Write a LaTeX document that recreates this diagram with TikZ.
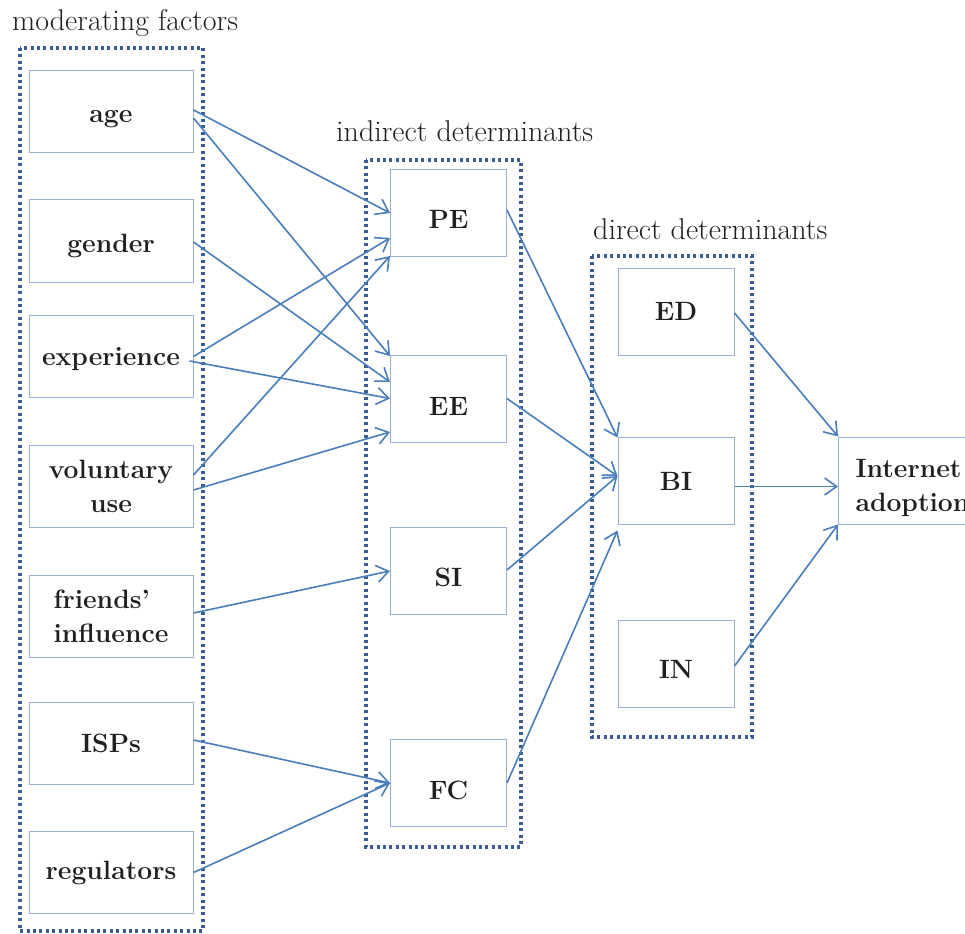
\documentclass[tikz,border=0pt]{standalone}
\usetikzlibrary{arrows.meta}
\definecolor{linkblue}{HTML}{4A7EBB}
\definecolor{boxline}{HTML}{9AAFCF}
\definecolor{framedot}{HTML}{3A5D93}
\definecolor{inkdark}{HTML}{231F20}
\begin{document}
\begin{tikzpicture}[x=1pt,y=-1pt,
  boxfont/.style={font=\fontsize{26.5}{34}\selectfont\bfseries, text=inkdark},
  factorbox/.style={draw=boxline, line width=1pt, minimum width=164pt, minimum height=82pt,
    boxfont, align=center, inner sep=0pt},
  detbox/.style={draw=boxline, line width=1pt, minimum width=116pt, minimum height=87pt,
    boxfont, inner sep=0pt},
  txtdrop/.style={text height=#1, text depth=6pt},
  groupframe/.style={draw=framedot, line width=3.4pt, dash pattern=on 3pt off 3.4pt},
  grouplabel/.style={font=\fontsize{30}{36}\selectfont, text=inkdark, anchor=base west, inner sep=0pt},
  link/.style={draw=linkblue, line width=1.6pt, -{Straight Barb[length=12pt,width=17pt]}}
]
\useasboundingbox (0,0) rectangle (965,933);

% dotted group frames
\draw[groupframe] (20,48) rectangle (203,931);
\draw[groupframe] (366,160) rectangle (521,847);
\draw[groupframe] (592,256) rectangle (752,737);

% group titles
\node[grouplabel] (tmod) at (12,31) {moderating factors};
\node[grouplabel] (tind) at (336,142) {indirect determinants};
\node[grouplabel] (tdir) at (593,239) {direct determinants};

% moderating factors
\node[factorbox, txtdrop=28pt] (age) at (111,112) {age};
\node[factorbox, txtdrop=28pt] (gender) at (111,241) {gender};
\node[factorbox, txtdrop=23pt] (exp) at (111,356.5) {experience};
\node[factorbox] (vol) at (111,486.5) {voluntary\\use};
\node[factorbox, align=left] (fri) at (111,616) {friends'\\influence};
\node[factorbox, txtdrop=24pt] (isp) at (111,743) {ISPs};
\node[factorbox, txtdrop=19pt] (reg) at (111,872.5) {regulators};

% indirect determinants
\node[detbox, txtdrop=38pt] (PE) at (448.5,213) {PE};
\node[detbox, txtdrop=40pt] (EE) at (448.5,398.5) {EE};
\node[detbox, txtdrop=36pt] (SI) at (448.5,571) {SI};
\node[detbox, txtdrop=38pt] (FC) at (448.5,783) {FC};

% direct determinants
\node[detbox, txtdrop=24pt] (ED) at (676,311.5) {ED};
\node[detbox, txtdrop=26pt] (BI) at (676,480.5) {BI};
\node[detbox, txtdrop=34pt] (IN) at (676,664) {IN};

% outcome
\node[draw=boxline, line width=1pt, minimum height=87pt, text width=150pt, inner xsep=17pt,
  inner ysep=0pt, align=left, anchor=west, boxfont, text height=18pt, text depth=25pt]
  (IA) at (838,480.5) {Internet\\adoption};

% moderators to indirect determinants
\draw[link] ([yshift=2pt]age.east) -- (PE.west);
\draw[link] ([yshift=-6pt]age.east) -- ([yshift=42.5pt]EE.west);
\draw[link] ([yshift=-1pt]gender.east) -- ([yshift=16.5pt]EE.west);
\draw[link] (exp.east) -- ([yshift=-25pt]PE.west);
\draw[link] ([yshift=-4.5pt,xshift=-4pt]exp.east) -- (EE.west);
\draw[link] ([yshift=11.5pt]vol.east) -- ([yshift=-43pt]PE.west);
\draw[link] ([yshift=-3.5pt]vol.east) -- ([yshift=-33.5pt]EE.west);
\draw[link] ([yshift=3pt]fri.east) -- (SI.west);
\draw[link] ([yshift=3pt]isp.east) -- (FC.west);
\draw[link] (reg.east) -- (FC.west);

% indirect to direct determinants
\draw[link] ([yshift=3pt]PE.east) -- ([yshift=-1pt]BI.north west);
\draw[link] (EE.east) -- ([yshift=4.5pt]BI.west);
\draw[link] ([yshift=1pt]SI.east) -- ([yshift=4.5pt]BI.west);
\draw[link] (FC.east) -- ([yshift=-6pt]BI.south west);

% direct determinants to adoption
\draw[link] ([yshift=-1.5pt]ED.east) -- (IA.north west);
\draw[link] ([yshift=-6pt]BI.east) -- ([yshift=-6pt]IA.west);
\draw[link] ([yshift=-2pt]IN.east) -- (IA.south west);
\end{tikzpicture}
\end{document}
